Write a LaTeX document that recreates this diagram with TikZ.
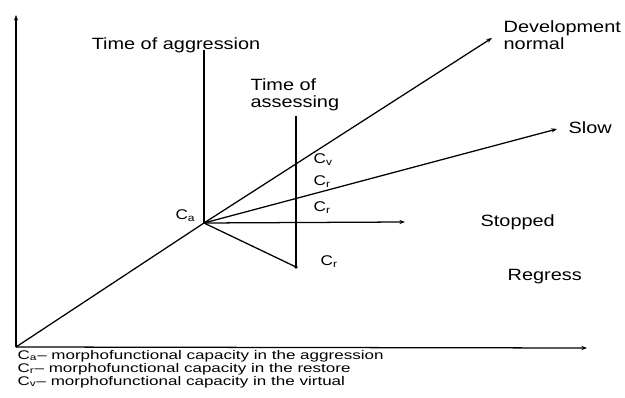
\documentclass[tikz,border=0pt]{standalone}
\usepackage{fontspec}
\setmainfont[FakeStretch=1.22]{Liberation Sans}
\newfontfamily\legendfont[FakeStretch=1.36]{Liberation Sans}
\usepackage{tikz}
\usetikzlibrary{arrows.meta}

\begin{document}
\begin{tikzpicture}[
    x=0.025cm, y=-0.025cm,
    line width=0.9pt,
    arrow/.style={-{Stealth[length=4pt,width=3pt]}},
    lbl/.style={font=\fontsize{11.6}{12}\selectfont, inner sep=0pt, align=left},
    caplbl/.style={font=\fontsize{10}{11}\selectfont, inner sep=0pt},
    legend/.style={font=\legendfont\fontsize{8.9}{9}\selectfont, inner sep=0pt, anchor=west}
]
\useasboundingbox (0,0) rectangle (625,398);

% axes
\coordinate (origin) at (16,347);
\coordinate (ytop) at (16,15);
\coordinate (xend) at (587,348);
\draw[arrow] (origin) -- (ytop);
\draw[arrow] (origin) -- (xend);

% point of aggression
\coordinate (aggr) at (204,223);
\draw (origin) -- (aggr);
\node[caplbl, anchor=east] (ca) at (196,216) {C\textsubscript{a}};

% time lines
\coordinate (aggrtop) at (204,50);
\coordinate (assesstop) at (296,116);
\coordinate (regress) at (296,267);
\draw (aggrtop) -- (aggr);
\draw (assesstop) -- (regress);

% trajectories
\coordinate (normalend) at (492,38);
\coordinate (slowend) at (557,129);
\coordinate (stopend) at (405,222);
\draw[arrow] (aggr) -- (normalend);
\draw[arrow] (aggr) -- (slowend);
\draw[arrow] (aggr) -- (stopend);
\draw (aggr) -- (regress);
\fill (regress) circle (1.8);

% labels
\node[lbl] (timeaggr) at (176,45) {Time of aggression};
\node[lbl, anchor=west] (timeassess) at (250,95) {Time of\\assessing};
\node[lbl, anchor=west] (normal) at (503,35) {Development\\normal};
\node[lbl, anchor=west] (slow) at (568,128) {Slow};
\node[lbl, anchor=west] (stopped) at (480,222) {Stopped};
\node[lbl, anchor=west] (regresslbl) at (507,277) {Regress};

\node[caplbl, anchor=west] (cv) at (313,160) {C\textsubscript{v}};
\node[caplbl, anchor=west] (cr1) at (313,182) {C\textsubscript{r}};
\node[caplbl, anchor=west] (cr2) at (313,208) {C\textsubscript{r}};
\node[caplbl, anchor=west] (cr3) at (320,262) {C\textsubscript{r}};

% legend
\node[legend] (leg1) at (17,356) {C\textsubscript{a}– morphofunctional capacity in the aggression};
\node[legend] (leg2) at (17,369) {C\textsubscript{r}– morphofunctional capacity in the restore};
\node[legend] (leg3) at (17,382) {C\textsubscript{v}– morphofunctional capacity in the virtual};
\end{tikzpicture}
\end{document}
